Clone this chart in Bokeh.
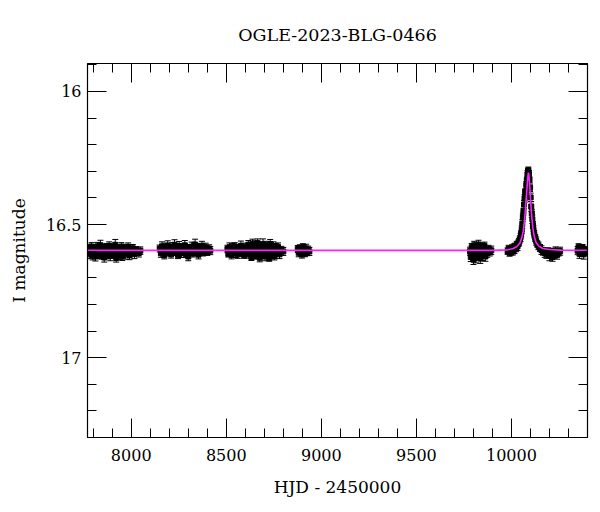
from bokeh.plotting import figure
from bokeh.models import (Range1d, LinearAxis, SingleIntervalTicker, Whisker,
                          TeeHead, ColumnDataSource, CustomJSTickFormatter)
from bokeh.embed import file_html
from bokeh.resources import INLINE

TITLE = "OGLE-2023-BLG-0466"
X_LABEL = "HJD - 2450000"
Y_LABEL = "I magnitude"

# ---- photometry, season by season (HJD-2450000, I mag, error) ----
t1 = [7777, 7782, 7787, 7792, 7797, 7802, 7807, 7812, 7817, 7822, 7827, 7832, 7838, 7843, 7848,
      7853, 7858, 7863, 7869, 7874, 7879, 7884, 7890, 7895, 7900, 7905, 7911, 7916, 7921, 7927,
      7932, 7937, 7943, 7948, 7953, 7959, 7965, 7971, 7977, 7984, 7991, 7999, 8008, 8017, 8027,
      8040, 8048]
m1 = [16.588, 16.612, 16.596, 16.583, 16.615, 16.601, 16.590, 16.620, 16.605, 16.582,
      16.611, 16.598, 16.578, 16.616, 16.603, 16.589, 16.624, 16.600, 16.585, 16.613,
      16.595, 16.580, 16.618, 16.602, 16.587, 16.610, 16.597, 16.576, 16.626, 16.604,
      16.590, 16.614, 16.599, 16.583, 16.619, 16.601, 16.588, 16.612, 16.596, 16.584,
      16.616, 16.600, 16.589, 16.611, 16.595, 16.607, 16.598]
e1 = [0.014, 0.016, 0.012, 0.015, 0.018, 0.013, 0.014, 0.017, 0.012, 0.015,
      0.016, 0.013, 0.019, 0.014, 0.012, 0.015, 0.017, 0.013, 0.014, 0.016,
      0.012, 0.015, 0.018, 0.013, 0.014, 0.016, 0.012, 0.020, 0.015, 0.013,
      0.014, 0.017, 0.012, 0.015, 0.016, 0.013, 0.014, 0.018, 0.012, 0.015,
      0.016, 0.013, 0.014, 0.017, 0.012, 0.015, 0.014]

t2 = [8150, 8156, 8162, 8168, 8174, 8180, 8186, 8192, 8198, 8204, 8210, 8216, 8222, 8228, 8234,
      8240, 8246, 8252, 8258, 8264, 8270, 8276, 8282, 8288, 8294, 8300, 8306, 8312, 8318, 8324,
      8330, 8336, 8342, 8348, 8354, 8360, 8366, 8372, 8378, 8385, 8392, 8400, 8410, 8416]
m2 = [16.590, 16.608, 16.582, 16.600, 16.615, 16.586, 16.597, 16.579, 16.606, 16.592,
      16.612, 16.584, 16.599, 16.576, 16.604, 16.589, 16.614, 16.581, 16.596, 16.608,
      16.585, 16.601, 16.578, 16.611, 16.593, 16.620, 16.587, 16.600, 16.583, 16.609,
      16.591, 16.575, 16.605, 16.588, 16.613, 16.584, 16.598, 16.580, 16.606, 16.592,
      16.586, 16.603, 16.590, 16.598]
e2 = [0.013, 0.015, 0.017, 0.012, 0.014, 0.016, 0.013, 0.018, 0.012, 0.015,
      0.014, 0.016, 0.013, 0.019, 0.012, 0.015, 0.014, 0.017, 0.013, 0.016,
      0.012, 0.015, 0.018, 0.013, 0.014, 0.016, 0.012, 0.015, 0.017, 0.013,
      0.014, 0.020, 0.012, 0.015, 0.016, 0.013, 0.014, 0.017, 0.012, 0.015,
      0.016, 0.013, 0.014, 0.015]

t3 = [8506, 8511, 8517, 8522, 8528, 8533, 8539, 8544, 8550, 8555, 8561, 8566, 8572, 8577, 8583,
      8588, 8594, 8599, 8605, 8610, 8616, 8621, 8627, 8632, 8638, 8643, 8649, 8654, 8660, 8665,
      8671, 8676, 8682, 8687, 8693, 8698, 8704, 8709, 8715, 8720, 8726, 8731, 8737, 8742, 8748,
      8753, 8759, 8765, 8772, 8780, 8790, 8800]
m3 = [16.592, 16.610, 16.585, 16.603, 16.614, 16.589, 16.598, 16.582, 16.608, 16.595,
      16.612, 16.587, 16.600, 16.580, 16.606, 16.593, 16.615, 16.586, 16.602, 16.590,
      16.576, 16.612, 16.585, 16.622, 16.572, 16.600, 16.618, 16.580, 16.608, 16.570,
      16.595, 16.625, 16.583, 16.610, 16.574, 16.602, 16.620, 16.578, 16.606, 16.588,
      16.626, 16.573, 16.598, 16.615, 16.581, 16.619, 16.590, 16.604, 16.584, 16.612,
      16.596, 16.601]
e3 = [0.014, 0.012, 0.016, 0.013, 0.015, 0.017, 0.012, 0.014, 0.016, 0.013,
      0.015, 0.012, 0.014, 0.018, 0.013, 0.015, 0.012, 0.016, 0.014, 0.013,
      0.016, 0.014, 0.018, 0.013, 0.017, 0.015, 0.012, 0.019, 0.014, 0.016,
      0.013, 0.015, 0.017, 0.014, 0.020, 0.013, 0.016, 0.015, 0.018, 0.014,
      0.012, 0.017, 0.015, 0.013, 0.016, 0.014, 0.019, 0.013, 0.015, 0.016,
      0.014, 0.015]

t4 = [8876, 8881, 8887, 8892, 8898, 8903, 8909, 8914, 8920, 8926, 8931, 8937]
m4 = [16.592, 16.606, 16.588, 16.600, 16.612, 16.585, 16.597, 16.609, 16.590, 16.603, 16.594, 16.601]
e4 = [0.013, 0.015, 0.012, 0.016, 0.014, 0.013, 0.015, 0.012, 0.016, 0.014, 0.013, 0.015]

t5 = [9782, 9786, 9791, 9795, 9800, 9804, 9809, 9813, 9818, 9822, 9827, 9831, 9836, 9840, 9845,
      9849, 9854, 9858, 9863, 9868, 9873, 9879, 9886, 9894]
m5 = [16.600, 16.622, 16.585, 16.612, 16.632, 16.578, 16.604, 16.625, 16.590, 16.615,
      16.575, 16.608, 16.628, 16.583, 16.618, 16.596, 16.610, 16.580, 16.620, 16.598,
      16.607, 16.592, 16.603, 16.597]
e5 = [0.015, 0.017, 0.014, 0.016, 0.018, 0.015, 0.016, 0.019, 0.014, 0.017,
      0.016, 0.015, 0.018, 0.014, 0.017, 0.015, 0.016, 0.014, 0.018, 0.015,
      0.016, 0.014, 0.015, 0.016]

t6 = [9980, 9985, 9990, 9995, 10000, 10004, 10008, 10012, 10016, 10020, 10024, 10028, 10032, 10036, 10040,
      10044, 10048, 10051, 10054, 10057, 10060, 10063, 10066, 10069, 10072,
      10075, 10078, 10081, 10084, 10087, 10089, 10092, 10095, 10098, 10101,
      10104, 10107, 10110, 10113, 10116, 10120, 10125, 10130, 10136, 10142,
      10150, 10158, 10166, 10175, 10184, 10192, 10200, 10208, 10216, 10224,
      10232, 10240, 10248, 10256]
m6 = [16.600, 16.592, 16.606, 16.596, 16.603, 16.590, 16.598, 16.586, 16.594, 16.582, 16.588, 16.576, 16.582, 16.570, 16.566,
      16.556, 16.548, 16.535, 16.520, 16.498, 16.472, 16.452, 16.425, 16.402, 16.378,
      16.385, 16.352, 16.334, 16.312, 16.300, 16.296, 16.310, 16.332, 16.362, 16.398,
      16.432, 16.458, 16.480, 16.502, 16.520, 16.536, 16.551, 16.562, 16.573, 16.580,
      16.588, 16.596, 16.601, 16.606, 16.612, 16.600, 16.618, 16.604, 16.622, 16.608,
      16.598, 16.614, 16.605, 16.600]
e6 = [0.012, 0.014, 0.013, 0.015, 0.012, 0.014, 0.016, 0.013, 0.015, 0.012, 0.014, 0.013, 0.016, 0.012, 0.014,
      0.013, 0.015, 0.012, 0.014, 0.016, 0.015, 0.013, 0.016, 0.014, 0.012,
      0.015, 0.013, 0.012, 0.014, 0.011, 0.012, 0.013, 0.011, 0.014, 0.016,
      0.018, 0.015, 0.016, 0.013, 0.015, 0.014, 0.013, 0.015, 0.012, 0.014,
      0.013, 0.016, 0.014, 0.017, 0.015, 0.013, 0.018, 0.014, 0.016, 0.019,
      0.014, 0.016, 0.013, 0.015]

t7 = [10348, 10353, 10358, 10363, 10368, 10374, 10380, 10387, 10395]
m7 = [16.598, 16.585, 16.610, 16.592, 16.604, 16.588, 16.612, 16.596, 16.600]
e7 = [0.015, 0.013, 0.017, 0.014, 0.016, 0.013, 0.018, 0.014, 0.015]

# ---- microlensing model curve ----
model_t = [7770, 9900, 9980, 10010, 10030, 10045, 10055, 10062, 10068, 10073, 10077, 10081,
           10084, 10087, 10089, 10091, 10094, 10097, 10100, 10104, 10108, 10113, 10120,
           10130, 10145, 10165, 10200, 10260, 10400]
model_m = [16.597, 16.597, 16.595, 16.590, 16.582, 16.568, 16.548, 16.525, 16.490, 16.450,
           16.410, 16.370, 16.340, 16.315, 16.305, 16.310, 16.335, 16.365, 16.400, 16.445,
           16.480, 16.515, 16.545, 16.568, 16.582, 16.590, 16.594, 16.596, 16.597]

X_MIN, X_MAX = 7770, 10400
Y_BRIGHT, Y_FAINT = 15.895, 17.3

T = t1 + t2 + t3 + t4 + t5 + t6 + t7
M = m1 + m2 + m3 + m4 + m5 + m6 + m7
E = e1 + e2 + e3 + e4 + e5 + e6 + e7
src = ColumnDataSource(dict(t=T, m=M,
                            hi=[a + b for a, b in zip(M, E)],
                            lo=[a - b for a, b in zip(M, E)]))

FONT = "DejaVu Serif"

p = figure(frame_width=500, frame_height=374,
           x_range=Range1d(X_MIN, X_MAX), y_range=Range1d(Y_FAINT, Y_BRIGHT),
           output_backend="svg", toolbar_location=None,
           min_border_left=87, min_border_top=63, min_border_right=2, min_border_bottom=40,
           title=TITLE)
p.title.text_font = FONT
p.title.text_font_size = "17.5px"
p.title.text_font_style = "normal"
p.title.align = "center"
p.title.vertical_align = "top"
p.title.standoff = 34
p.title.text_color = "black"
p.grid.visible = False
p.outline_line_color = "black"
p.background_fill_color = "white"
p.border_fill_color = "white"

bottom_ax = p.below[0]
left_ax = p.left[0]
bottom_ax.axis_label = X_LABEL
left_ax.axis_label = Y_LABEL

top_ax = LinearAxis()
right_ax = LinearAxis()
p.add_layout(top_ax, "above")
p.add_layout(right_ax, "right")

for ax in (bottom_ax, top_ax):
    ax.ticker = SingleIntervalTicker(interval=500, num_minor_ticks=5)
for ax in (left_ax, right_ax):
    ax.ticker = SingleIntervalTicker(interval=0.5, num_minor_ticks=5)

for ax in (bottom_ax, top_ax, left_ax, right_ax):
    ax.axis_line_color = "black"
    ax.axis_line_width = 1.2
    ax.major_tick_in = 19
    ax.major_tick_out = 0
    ax.minor_tick_in = 9
    ax.minor_tick_out = 0
    ax.major_tick_line_color = "black"
    ax.minor_tick_line_color = "black"
    ax.major_label_text_font = FONT
    ax.major_label_text_font_size = "16px"
    ax.major_label_text_color = "black"
    ax.axis_label_text_font = FONT
    ax.axis_label_text_font_size = "17px"
    ax.axis_label_text_font_style = "normal"
    ax.axis_label_text_color = "black"

bottom_ax.major_label_standoff = 11
bottom_ax.axis_label_standoff = 13
left_ax.major_label_standoff = 6
left_ax.axis_label_standoff = 14

for ax in (top_ax, right_ax):
    ax.formatter = CustomJSTickFormatter(code="return ''")
    ax.major_label_text_font_size = "0px"
    ax.major_label_standoff = 0

wh = Whisker(base="t", upper="hi", lower="lo", source=src, dimension="height",
             line_color="black", line_width=1, level="underlay",
             upper_head=TeeHead(size=6, line_color="black", line_width=1),
             lower_head=TeeHead(size=6, line_color="black", line_width=1))
p.add_layout(wh)
p.scatter("t", "m", source=src, marker="square", size=5, color="black")
p.line(model_t, model_m, line_color="#ff22ff", line_width=1.6)

open("out.html", "w").write(file_html(p, INLINE))
